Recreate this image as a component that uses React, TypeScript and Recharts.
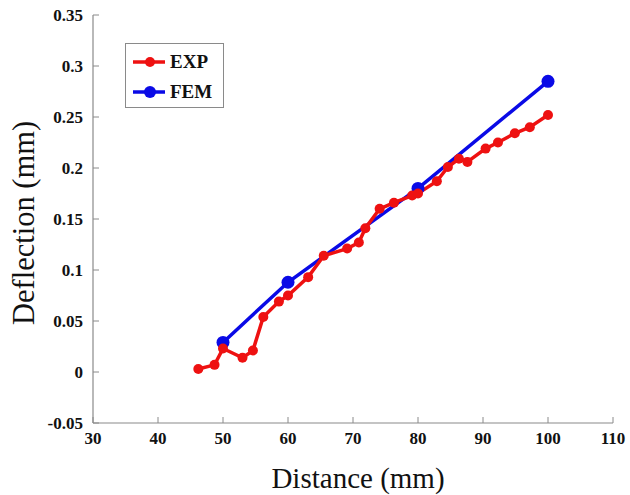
import React from 'react';
import { LineChart, Line, XAxis, YAxis, Legend } from 'recharts';

// Experimental deflection readings (mm) vs distance (mm)
const expDistance = [46.2, 48.7, 50, 53, 54.6, 56.2, 58.6, 60, 63.1, 65.5, 69.1, 70.9, 71.9, 74.1, 76.3, 79.1, 80, 82.9, 84.6, 86.3, 87.6, 90.4, 92.3, 94.9, 97.2, 100];
const expDeflection = [0.003, 0.007, 0.023, 0.014, 0.021, 0.054, 0.069, 0.075, 0.093, 0.114, 0.121, 0.127, 0.141, 0.16, 0.166, 0.173, 0.175, 0.187, 0.201, 0.209, 0.206, 0.219, 0.225, 0.234, 0.24, 0.252];

// FEM prediction
const femDistance = [50, 60, 80, 100];
const femDeflection = [0.029, 0.088, 0.18, 0.285];

const xTicks = [30, 40, 50, 60, 70, 80, 90, 100, 110];
const yTicks = [-0.05, 0, 0.05, 0.1, 0.15, 0.2, 0.25, 0.3, 0.35];

const expData = expDistance.map((x, i) => ({ x, y: expDeflection[i] }));
const femData = femDistance.map((x, i) => ({ x, y: femDeflection[i] }));

const RED = '#ee1111';
const BLUE = '#0a0ae6';
const AXIS = '#8a8a8a';
const TICK_FONT = { fontFamily: '"Liberation Serif", serif', fontWeight: 700, fontSize: 17, fill: '#111' };
const TITLE_FONT = { fontFamily: '"Liberation Serif", serif', fill: '#111' };

const BottomTick = (props: any) => {
  const { x, y, payload } = props;
  return (
    <g>
      <line x1={x} x2={x} y1={y} y2={y - 6} stroke={AXIS} strokeWidth={1} />
      <text x={x} y={y + 15} textAnchor="middle" dominantBaseline="central" {...TICK_FONT}>
        {payload.value}
      </text>
    </g>
  );
};

const TopTick = (props: any) => {
  const { x, y } = props;
  return <line x1={x} x2={x} y1={y} y2={y + 6} stroke={AXIS} strokeWidth={1} />;
};

const LeftTick = (props: any) => {
  const { x, y, payload } = props;
  return (
    <g>
      <line x1={x} x2={x + 6} y1={y} y2={y} stroke={AXIS} strokeWidth={1} />
      <text x={x - 10} y={y} textAnchor="end" dominantBaseline="central" {...TICK_FONT}>
        {payload.value}
      </text>
    </g>
  );
};

const RightTick = (props: any) => {
  const { x, y } = props;
  return <line x1={x} x2={x - 6} y1={y} y2={y} stroke={AXIS} strokeWidth={1} />;
};

const LegendBox = () => {
  const rows = [
    { name: 'EXP', color: RED, r: 5 },
    { name: 'FEM', color: BLUE, r: 6 },
  ];
  return (
    <div
      style={{
        width: 99,
        height: 65,
        boxSizing: 'border-box',
        border: `1.5px solid ${AXIS}`,
        background: '#fff',
        paddingTop: 6,
      }}
    >
      {rows.map((row) => (
        <div key={row.name} style={{ display: 'flex', alignItems: 'center', height: 24, marginBottom: 6 }}>
          <svg width={44} height={20}>
            <line x1={7} x2={39} y1={10} y2={10} stroke={row.color} strokeWidth={3.5} />
            <circle cx={24} cy={10} r={row.r} fill={row.color} />
          </svg>
          <span
            style={{
              fontFamily: '"Liberation Serif", serif',
              fontWeight: 700,
              fontSize: 19,
              color: '#111',
            }}
          >
            {row.name}
          </span>
        </div>
      ))}
    </div>
  );
};

export default function App() {
  return (
    <div style={{ position: 'absolute', left: 0, top: 0, background: '#fff' }}>
      <LineChart width={630} height={495} margin={{ top: 15, right: 17, bottom: 0, left: 0 }}>
        <XAxis
          type="number"
          dataKey="x"
          domain={[30, 110]}
          ticks={xTicks}
          interval={0}
          height={72}
          tickSize={0}
          tickMargin={0}
          tickLine={false}
          axisLine={{ stroke: AXIS, strokeWidth: 1.2 }}
          tick={<BottomTick />}
          label={{
            content: ({ viewBox }: any) => (
              <text
                x={viewBox.x + viewBox.width / 2 + 5}
                y={viewBox.y + 65}
                textAnchor="middle"
                fontSize={29}
                {...TITLE_FONT}
              >
                Distance (mm)
              </text>
            ),
          }}
        />
        <XAxis
          xAxisId="top"
          orientation="top"
          type="number"
          domain={[30, 110]}
          ticks={xTicks}
          interval={0}
          height={0}
          tickSize={0}
          tickLine={false}
          axisLine={{ stroke: AXIS, strokeWidth: 1.2 }}
          tick={<TopTick />}
        />
        <YAxis
          type="number"
          domain={[-0.05, 0.35]}
          ticks={yTicks}
          interval={0}
          width={93}
          tickSize={0}
          tickMargin={0}
          tickLine={false}
          axisLine={{ stroke: AXIS, strokeWidth: 1.2 }}
          tick={<LeftTick />}
          label={{
            content: ({ viewBox }: any) => {
              const cx = 24;
              const cy = viewBox.y + viewBox.height / 2 + 4;
              return (
                <text
                  x={cx}
                  y={cy}
                  textAnchor="middle"
                  dominantBaseline="central"
                  transform={`rotate(-90 ${cx} ${cy})`}
                  fontSize={30.5}
                  {...TITLE_FONT}
                >
                  Deflection (mm)
                </text>
              );
            },
          }}
        />
        <YAxis
          yAxisId="right"
          orientation="right"
          type="number"
          domain={[-0.05, 0.35]}
          ticks={yTicks}
          interval={0}
          width={0}
          tickSize={0}
          tickLine={false}
          axisLine={{ stroke: AXIS, strokeWidth: 1.2 }}
          tick={<RightTick />}
        />
        <Legend
          layout="horizontal"
          verticalAlign="middle"
          align="center"
          wrapperStyle={{ left: 125, top: 43, width: 99, height: 65 }}
          content={() => <LegendBox />}
        />
        <Line
          data={femData}
          dataKey="y"
          name="FEM"
          stroke={BLUE}
          strokeWidth={3.5}
          dot={{ r: 6.5, fill: BLUE, stroke: BLUE, strokeWidth: 0 }}
          activeDot={false}
          isAnimationActive={false}
        />
        <Line
          data={expData}
          dataKey="y"
          name="EXP"
          stroke={RED}
          strokeWidth={3.5}
          dot={{ r: 5, fill: RED, stroke: RED, strokeWidth: 0 }}
          activeDot={false}
          isAnimationActive={false}
        />
      </LineChart>
    </div>
  );
}
